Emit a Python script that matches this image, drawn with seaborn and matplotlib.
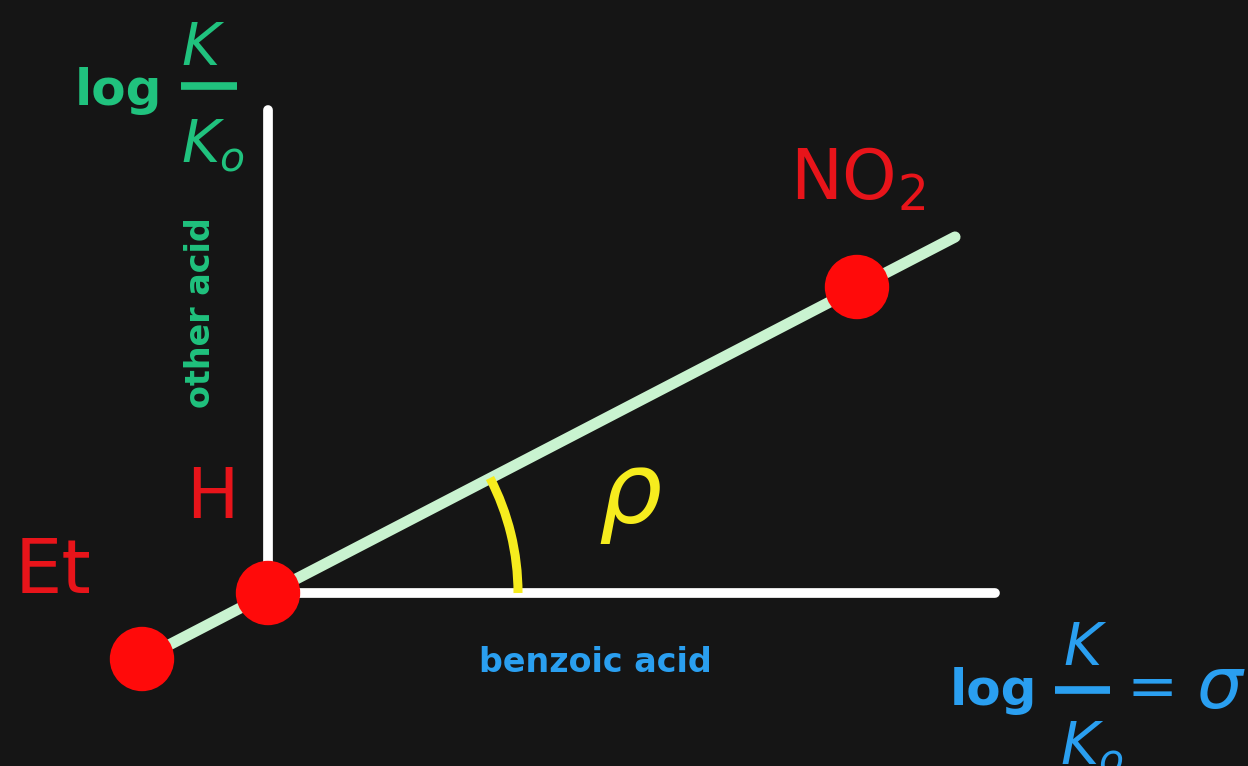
import numpy as np
import pandas as pd
import matplotlib
matplotlib.use("Agg")
import matplotlib.pyplot as plt
import seaborn as sns
from matplotlib.patches import Arc

# ---- data (Hammett plot; H is the origin) ----
substituents = ["Et", "H", "NO2"]
sigma = [-1.26, 0.0, 5.89]            # log K/K0, benzoic acid (x)
log_k_other = [-0.66, 0.0, 3.06]      # log K/K0, other acid (y)
fit_x = [-1.26, 6.87]
fit_y = [-0.66, 3.56]
x_axis_end = 7.27
y_axis_end = 4.83
arc_radius = 2.50

BG = "#151515"
GREEN = "#20c27e"
BLUE = "#2a9ff0"
RED = "#e8141a"
DOT = "#ff0a0a"
YELLOW = "#f6ec1e"
MINT = "#c9f3d0"

sns.set_theme(style="dark", rc={"figure.facecolor": BG, "axes.facecolor": BG})
plt.rcParams["font.family"] = ["DejaVu Sans"]
plt.rcParams["mathtext.default"] = "regular"

W, H = 1248, 766
fig = plt.figure(figsize=(W / 100, H / 100), dpi=100)
ax = fig.add_axes([0, 0, 1, 1])
ax.set_xlim(-2.68, 9.80)
ax.set_ylim(-1.73, 5.93)
ax.set_axis_off()

df = pd.DataFrame({"sub": substituents, "x": sigma, "y": log_k_other})
fit = pd.DataFrame({"x": fit_x, "y": fit_y})

# axes (white)
ax.plot([0, 0], [0, y_axis_end], color="white", lw=7, solid_capstyle="round", zorder=2)
ax.plot([0, x_axis_end], [0, 0], color="white", lw=7, solid_capstyle="round", zorder=2)

# correlation line
sns.lineplot(data=fit, x="x", y="y", ax=ax, color=MINT, lw=8, zorder=3)
ax.lines[-1].set_solid_capstyle("round")

# rho angle arc
theta = np.degrees(np.arctan2(fit_y[1], fit_x[1]))
ax.add_patch(Arc((0, 0), 2 * arc_radius, 2 * arc_radius, theta1=0, theta2=theta,
                 color=YELLOW, lw=6.5, zorder=3))

# points
sns.scatterplot(data=df, x="x", y="y", ax=ax, color=DOT, s=2150, edgecolor="none",
                zorder=5, legend=False)


def fp(x, y):
    return (x / W, 1 - y / H)


T = fig.transFigure

# top-left y label: log K/Ko
fig.text(*fp(75, 105), "log", color=GREEN, fontsize=36, fontweight="bold", ha="left", va="baseline")
fig.text(*fp(181, 65), "K", color=GREEN, fontsize=42, style="italic", ha="left", va="baseline")
ax.plot([fp(181, 0)[0], fp(237, 0)[0]], [fp(0, 86)[1]] * 2, transform=T, color=GREEN,
        lw=5.5, solid_capstyle="butt")
fig.text(*fp(181, 162), r"K$_{o}$", color=GREEN, fontsize=42, style="italic", ha="left", va="baseline")
fig.text(*fp(200, 313), "other acid", color=GREEN, fontsize=24, fontweight="bold", rotation=90, ha="center", va="center")

# bottom-right x label: log K/Ko = sigma
fig.text(*fp(950, 705), "log", color=BLUE, fontsize=36, fontweight="bold", ha="left", va="baseline")
fig.text(*fp(1063, 665), "K", color=BLUE, fontsize=42, style="italic", ha="left", va="baseline")
ax.plot([fp(1055, 0)[0], fp(1110, 0)[0]], [fp(0, 690)[1]] * 2, transform=T, color=BLUE,
        lw=5.5, solid_capstyle="butt")
fig.text(*fp(1060, 764), r"K$_{o}$", color=BLUE, fontsize=42, style="italic", ha="left", va="baseline")
fig.text(*fp(1152, 690), "=", color=BLUE, fontsize=44, ha="center", va="center")
fig.text(*fp(1220, 708), "σ", color=BLUE, fontsize=52, style="italic", ha="center", va="baseline")
fig.text(*fp(595, 662), "benzoic acid", color=BLUE, fontsize=24, fontweight="bold", ha="center", va="center")

# substituent labels
fig.text(*fp(212, 518), "H", color=RED, fontsize=50, ha="center", va="baseline")
fig.text(*fp(15, 593), "Et", color=RED, fontsize=54, ha="left", va="baseline")
fig.text(*fp(790, 200), r"NO$_2$", color=RED, fontsize=50, ha="left", va="baseline")

# rho
fig.text(*fp(630, 495), "ρ", color=YELLOW, fontsize=72, style="italic", ha="center", va="center")

fig.savefig("out.png", dpi=100, facecolor=BG)
